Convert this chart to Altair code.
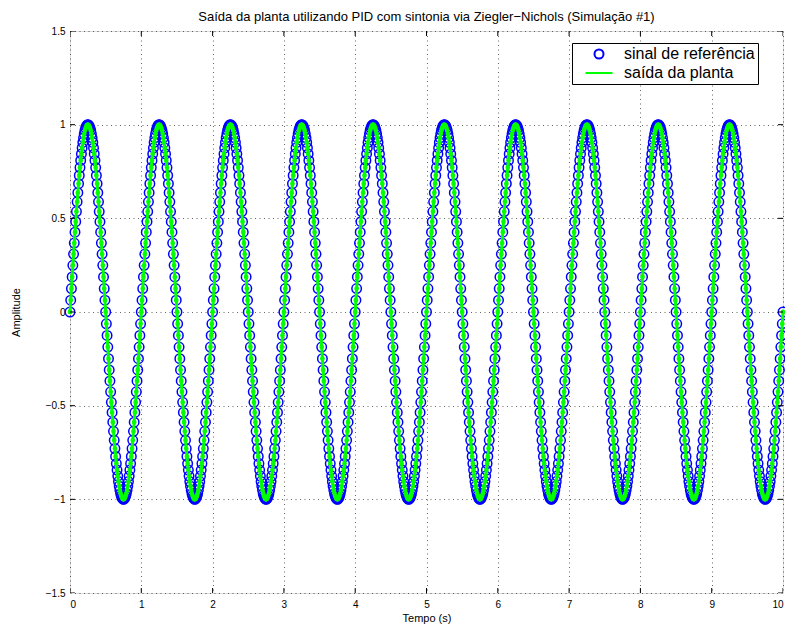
import altair as alt
import pandas as pd

# one period (dt = 0.01 s) of the signal; it repeats 10 times
period = [
    0.0, 0.063, 0.125, 0.187, 0.249, 0.309, 0.368, 0.426, 0.482, 0.536,
    0.588, 0.637, 0.685, 0.729, 0.771, 0.809, 0.844, 0.876, 0.905, 0.930,
    0.951, 0.969, 0.982, 0.992, 0.998, 1.0, 0.998, 0.992, 0.982, 0.969,
    0.951, 0.930, 0.905, 0.876, 0.844, 0.809, 0.771, 0.729, 0.685, 0.637,
    0.588, 0.536, 0.482, 0.426, 0.368, 0.309, 0.249, 0.187, 0.125, 0.063,
    0.0, -0.063, -0.125, -0.187, -0.249, -0.309, -0.368, -0.426, -0.482, -0.536,
    -0.588, -0.637, -0.685, -0.729, -0.771, -0.809, -0.844, -0.876, -0.905, -0.930,
    -0.951, -0.969, -0.982, -0.992, -0.998, -1.0, -0.998, -0.992, -0.982, -0.969,
    -0.951, -0.930, -0.905, -0.876, -0.844, -0.809, -0.771, -0.729, -0.685, -0.637,
    -0.588, -0.536, -0.482, -0.426, -0.368, -0.309, -0.249, -0.187, -0.125, -0.063,
]
n_periods = 10
dt = 0.01

reference = period * n_periods + [0.0]
output = period * n_periods + [0.0]
time = [round(i * dt, 2) for i in range(len(reference))]

x_ticks = [0, 1, 2, 3, 4, 5, 6, 7, 8, 9, 10]
y_ticks = [-1.5, -1, -0.5, 0, 0.5, 1, 1.5]

REF = "sinal de referência"
OUT = "saída da planta"

ref_df = pd.DataFrame({"t": time, "v": reference, "serie": REF})
out_df = pd.DataFrame({"t": time, "v": output, "serie": OUT})

FONT = "Liberation Sans"

xs = alt.Scale(domain=[0, 10], nice=False, zero=False)
ys = alt.Scale(domain=[-1.5, 1.5], nice=False, zero=False)

grid_kw = dict(grid=True, gridDash=[1, 3.5], gridColor="#000", gridOpacity=0.6, gridWidth=1)
xax = alt.Axis(values=x_ticks, format="~g", title="Tempo (s)", tickSize=0,
               labelPadding=6, titlePadding=3, domain=False,
               titleFontWeight="normal", **grid_kw)
yax = alt.Axis(values=y_ticks, format="~g", title="Amplitude", tickSize=0,
               labelPadding=5, titlePadding=24, domain=False,
               titleFontWeight="normal", **grid_kw)

stroke = alt.Stroke(
    "serie:N",
    scale=alt.Scale(domain=[REF, OUT], range=["#0000ff", "#00ff00"]),
    legend=alt.Legend(
        title=None, orient="none", legendX=502, legendY=12,
        strokeColor="#000", fillColor="#fff", padding=3,
        labelFont=FONT, labelFontSize=16, labelColor="#000",
        symbolSize=81, symbolStrokeWidth=2, rowPadding=2,
        symbolOffset=16, labelOffset=17,
        symbolFillColor="transparent", symbolOpacity=1,
    ),
)
shape = alt.Shape("serie:N", scale=alt.Scale(domain=[REF, OUT],
                                             range=["circle", "M-3,0H3"]))

ref_layer = alt.Chart(ref_df).mark_point(filled=False, size=90, strokeWidth=1.5,
                                         opacity=1).encode(
    x=alt.X("t:Q", scale=xs, axis=xax),
    y=alt.Y("v:Q", scale=ys, axis=yax),
    stroke=stroke,
    shape=shape,
)

out_layer = alt.Chart(out_df).mark_line(
    strokeWidth=3,
    point=alt.OverlayMarkDef(filled=True, size=8, color="#00ff00", opacity=1),
).encode(
    x=alt.X("t:Q", scale=xs),
    y=alt.Y("v:Q", scale=ys),
    stroke=stroke,
)

xt_df = pd.DataFrame({"t": x_ticks * 2, "v": [-1.5] * len(x_ticks) + [1.5] * len(x_ticks)})
yt_df = pd.DataFrame({"t": [0] * len(y_ticks) + [10] * len(y_ticks), "v": y_ticks * 2})

xtick_layer = alt.Chart(xt_df).mark_tick(orient="vertical", size=10, thickness=1,
                                         color="#000", clip=True, opacity=1).encode(
    x=alt.X("t:Q", scale=xs), y=alt.Y("v:Q", scale=ys))
ytick_layer = alt.Chart(yt_df).mark_tick(orient="horizontal", size=10, thickness=1,
                                         color="#000", clip=True, opacity=1).encode(
    x=alt.X("t:Q", scale=xs), y=alt.Y("v:Q", scale=ys))

chart = alt.layer(ref_layer, out_layer, xtick_layer, ytick_layer).properties(
    width=713,
    height=562,
    title=alt.TitleParams(
        "Saída da planta utilizando PID com sintonia via Ziegler−Nichols (Simulação #1)",
        font=FONT, fontSize=13, fontWeight="normal", color="#000", offset=2,
    ),
    autosize=alt.AutoSizeParams(type="none"),
    padding={"left": 62, "top": 23, "right": 2, "bottom": 38},
).configure_view(
    stroke="#000", strokeWidth=1
).configure_axis(
    labelFont=FONT, labelFontSize=12, labelColor="#000",
    titleFont=FONT, titleFontSize=12, titleColor="#000", titleFontWeight="normal",
).configure(background="#fff")

chart.save("out.html", embed_options={"renderer": "svg", "actions": False})
